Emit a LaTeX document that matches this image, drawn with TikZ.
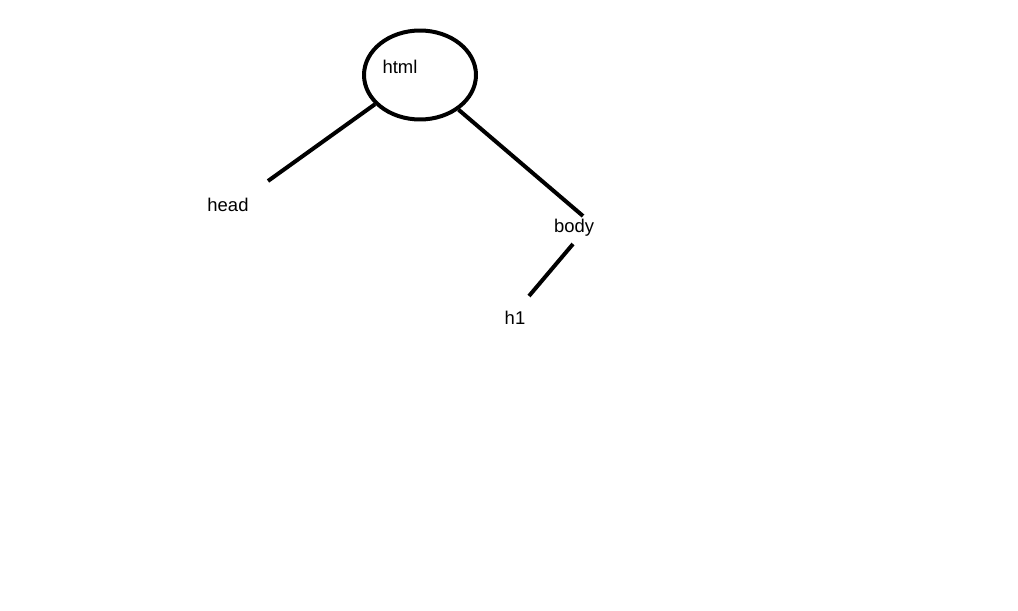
\documentclass[tikz,border=0pt]{standalone}
\usepackage{fontspec}
\setmainfont{Liberation Sans}
\usetikzlibrary{shapes.geometric}

\begin{document}
\begin{tikzpicture}[x=0.02cm, y=-0.02cm,
    every node/.style={font=\fontsize{10.5pt}{12pt}\selectfont, inner sep=0pt},
    edge/.style={line width=0.08cm}]

    % Canvas
    \useasboundingbox (0,0) rectangle (1018,611);

    % Root ellipse
    \node[ellipse, draw, line width=0.08cm, minimum width=2.24cm, minimum height=1.78cm] (root) at (420,75) {};

    % Tag names
    \node (html) at (400,67) {html};
    \node (head) at (228,205) {head};
    \node (body) at (574,228) {body};
    \node (hone) at (515,318) {h1};

    % Free ends of the strokes
    \coordinate (headtop) at (268,181);
    \coordinate (bodytop) at (583,216);
    \coordinate (bodybot) at (573,244);
    \coordinate (honetop) at (529,296);

    % Branches
    \draw[edge] (root.-147) -- (headtop);
    \draw[edge] (root.-42) -- (bodytop);
    \draw[edge] (bodybot) -- (honetop);

\end{tikzpicture}
\end{document}
